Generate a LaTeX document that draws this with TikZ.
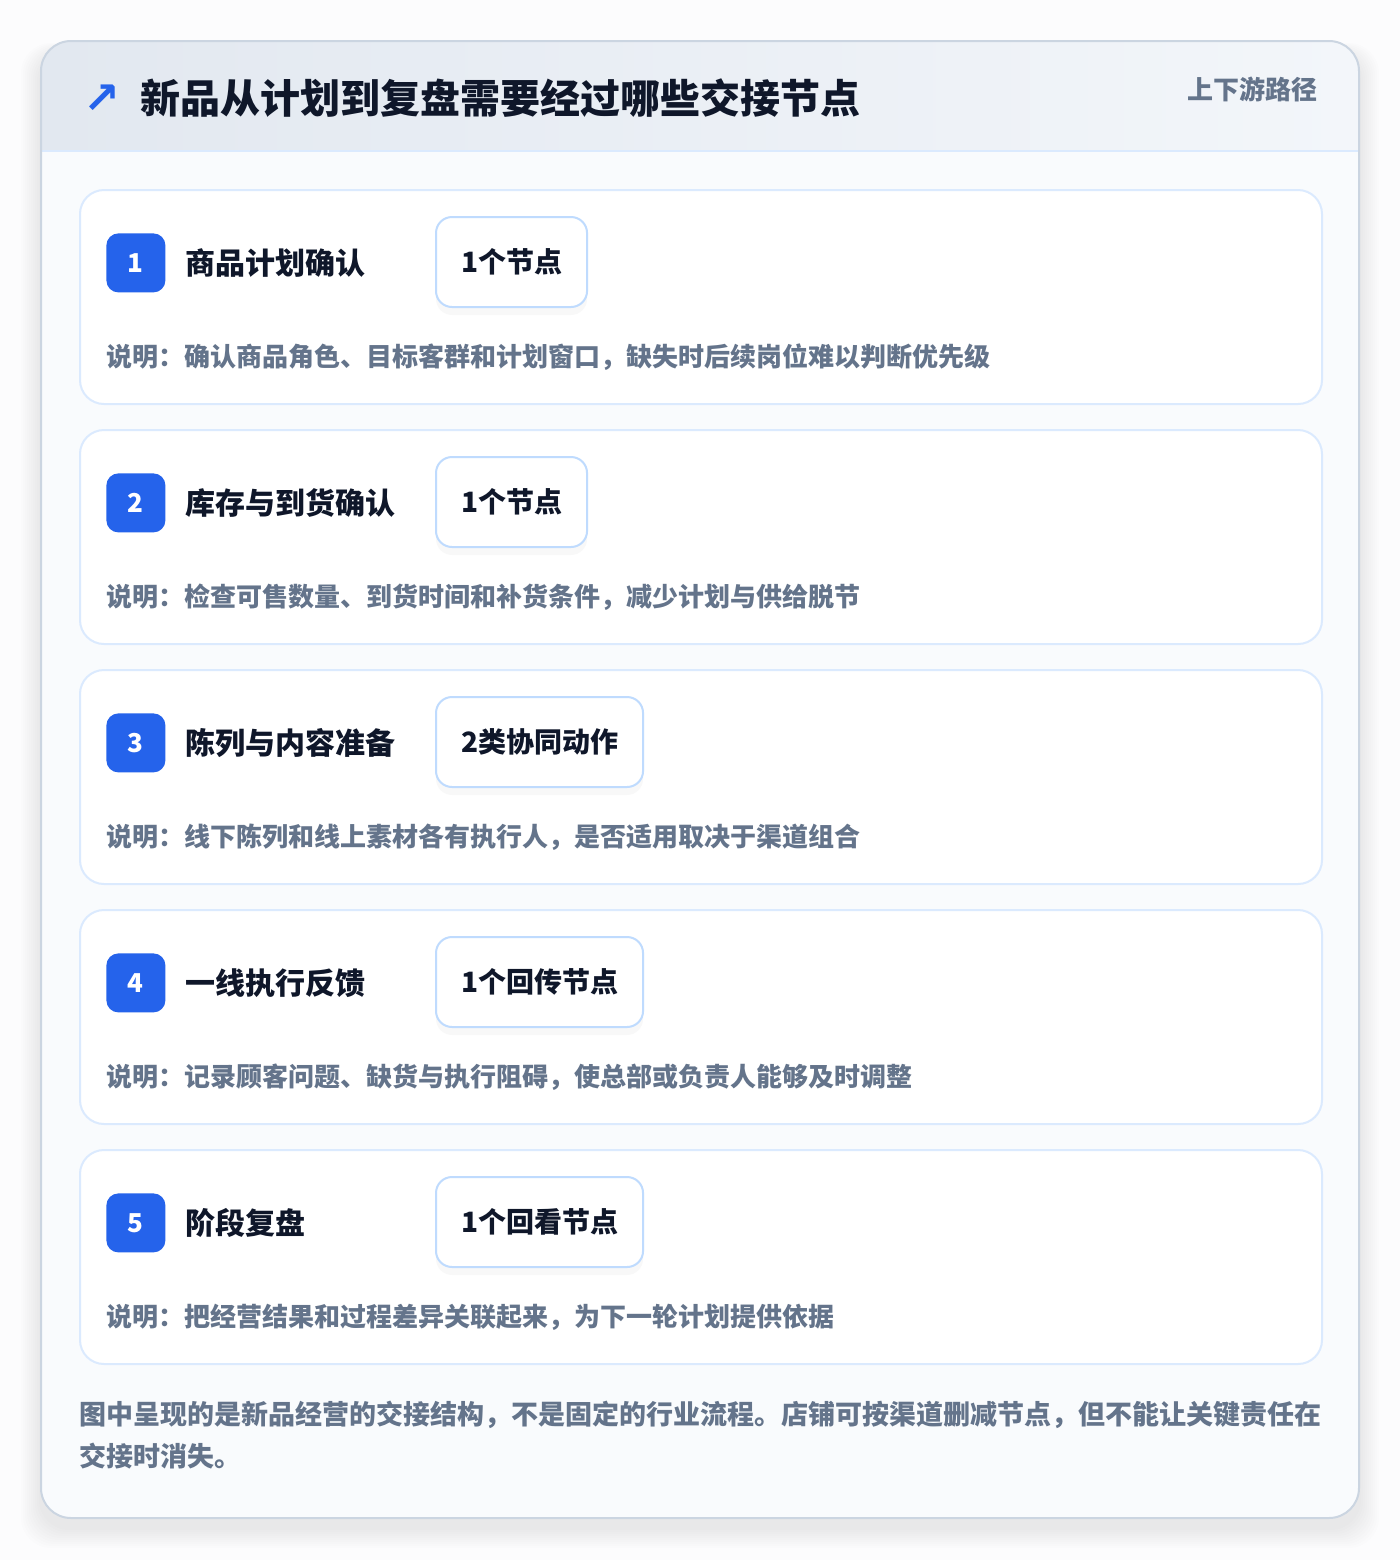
\documentclass[tikz,border=0pt]{standalone}
\usepackage{fontspec}
\setmainfont{Noto Sans CJK SC}
\newfontfamily\symfont{DejaVu Sans}
\usetikzlibrary{positioning,shadows}
\definecolor{accent}{HTML}{2563EB}
\definecolor{ink}{HTML}{0F172A}
\definecolor{muted}{HTML}{64748B}
\definecolor{edge}{HTML}{CBD5E1}
\definecolor{cardline}{HTML}{DBEAFE}
\definecolor{tagline}{HTML}{BFDBFE}
\definecolor{headl}{HTML}{E2E8F0}
\definecolor{headr}{HTML}{F3F6FA}
\definecolor{bodybg}{HTML}{F9FBFD}
\definecolor{pagebg}{HTML}{FCFCFD}

\begin{document}
\begin{tikzpicture}[x=0.5pt,y=-0.5pt]
	\tikzset{panel/.style={rounded corners=15pt,minimum width=659pt,minimum height=738.5pt,inner sep=0pt},
		card/.style={draw=cardline,line width=1pt,fill=white,rounded corners=12pt,minimum width=621pt,minimum height=107pt,inner sep=0pt,anchor=north west},
		badge/.style={fill=accent,rounded corners=6pt,minimum size=29.5pt,inner sep=0pt,anchor=north west,text=white,font=\bfseries\fontsize{13}{15}\selectfont},
		steptitle/.style={anchor=west,inner sep=0pt,text=ink,font=\bfseries\fontsize{15}{18}\selectfont},
		tag/.style={draw=tagline,line width=1pt,fill=white,rounded corners=8pt,minimum height=45pt,inner xsep=12.5pt,anchor=west,text=ink,font=\bfseries\fontsize{14}{17}\selectfont,
			drop shadow={shadow xshift=0pt,shadow yshift=-4pt,opacity=0.05}},
		note/.style={anchor=west,inner sep=0pt,text=muted,font=\bfseries\fontsize{13}{16}\selectfont}}
	\fill[pagebg] (0,0) rectangle (1400,1560);
	\useasboundingbox (0,0) rectangle (1400,1560);
	% soft shadow of the panel
	\foreach \k in {1,...,10}
		\fill[black,opacity=0.006,rounded corners=15pt] (41-2*\k,41+12-\k) rectangle (1359+2*\k,1518+10+2*\k);
	\node[panel,fill=bodybg] (panel) at (700,779.5) {};
	\begin{scope}
		\clip[rounded corners=15pt] (panel.north west) rectangle (panel.south east);
		\shade[left color=headl,right color=headr] (panel.north west) rectangle (1359,151);
	\end{scope}
	\draw[cardline,line width=1pt] (panel.west |- 0,151) -- (panel.east |- 0,151);
	\node[panel,draw=edge,line width=1pt] (frame) at (700,779.5) {};
	% header
	\node[inner sep=0pt,text=accent,font=\symfont\bfseries\fontsize{22}{24}\selectfont] (icon) at (102,99) {↗};
	\node[anchor=west,inner sep=0pt,text=ink,font=\bfseries\fontsize{20}{24}\selectfont] (title) at (140,98) {新品从计划到复盘需要经过哪些交接节点};
	\node[anchor=east,inner sep=0pt,text=muted,font=\bfseries\fontsize{13}{16}\selectfont] (scope) at (1318,89) {上下游路径};
	% steps
	\foreach \i/\ttl/\tg/\dsc in {1/商品计划确认/1个节点/说明：确认商品角色、目标客群和计划窗口，缺失时后续岗位难以判断优先级,
		2/库存与到货确认/1个节点/说明：检查可售数量、到货时间和补货条件，减少计划与供给脱节,
		3/陈列与内容准备/2类协同动作/说明：线下陈列和线上素材各有执行人，是否适用取决于渠道组合,
		4/一线执行反馈/1个回传节点/说明：记录顾客问题、缺货与执行阻碍，使总部或负责人能够及时调整,
		5/阶段复盘/1个回看节点/说明：把经营结果和过程差异关联起来，为下一轮计划提供依据}{
		\pgfmathsetmacro{\y}{189+240*(\i-1)}
		\node[card] (card\i) at (79,\y) {};
		\node[badge] (num\i) at ([shift={(27,44)}]card\i.north west) {\i};
		\node[steptitle,right=9.5pt of num\i] (name\i) {\ttl};
		\node[tag] (tag\i) at ([shift={(356,73)}]card\i.north west) {\tg};
		\node[note] (desc\i) at ([shift={(27,168)}]card\i.north west) {\dsc};
	}
	% footer
	\node[anchor=west,inner sep=0pt,text=muted,font=\bfseries\fontsize{13.5}{16}\selectfont] (foot1) at (79,1415) {图中呈现的是新品经营的交接结构，不是固定的行业流程。店铺可按渠道删减节点，但不能让关键责任在};
	\node[anchor=west,inner sep=0pt,text=muted,font=\bfseries\fontsize{13.5}{16}\selectfont] (foot2) at (79,1456) {交接时消失。};
\end{tikzpicture}
\end{document}
